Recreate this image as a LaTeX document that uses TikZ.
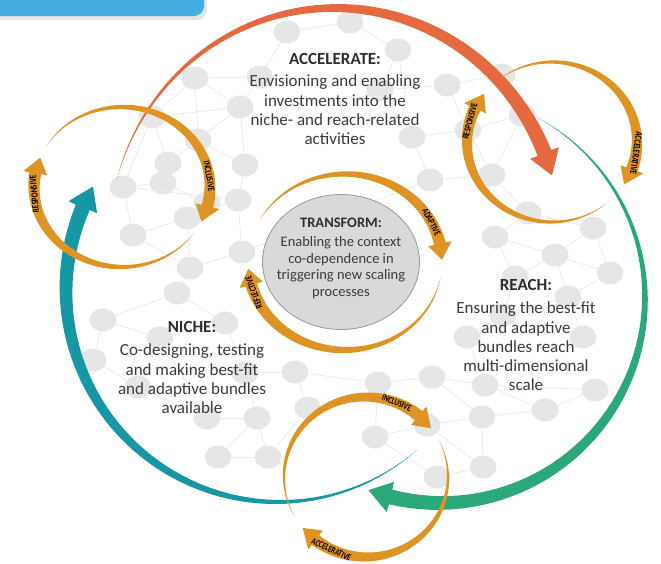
\documentclass[tikz,border=0pt]{standalone}
\usepackage{fontspec}
\setmainfont{Carlito}
\newfontfamily\tagfont[FakeStretch=0.75]{Carlito}
\usepackage{tikz}
\usetikzlibrary{shapes.geometric,positioning}
\definecolor{accred}{RGB}{229,105,62}
\definecolor{reachgreen}{RGB}{42,168,122}
\definecolor{nicheteal}{RGB}{23,150,163}
\definecolor{loopamber}{RGB}{222,148,36}
\definecolor{boxblue}{RGB}{70,173,225}
\definecolor{blobgray}{RGB}{230,230,230}
\definecolor{linkgray}{RGB}{234,234,234}
\definecolor{textgray}{RGB}{58,58,58}
\tikzset{
blob/.style={ellipse, fill=blobgray, minimum width=27pt, minimum height=23pt, inner sep=0pt}, % network dots
link/.style={draw=linkgray, line width=0.8pt},
head/.style={font=\bfseries\fontsize{17}{19}\selectfont, text=textgray!80!black, inner sep=0pt},
body/.style={font=\fontsize{17}{19.2}\selectfont, text=textgray, align=center, inner sep=0pt},
tag/.style={font=\tagfont\bfseries\fontsize{9.5}{9.5}\selectfont, text=black, inner sep=0pt},
core/.style={ellipse, fill=black!15, draw=black!40, line width=0.8pt, minimum width=157pt, minimum height=135pt},
}
% tapered circular arrow: centre x, centre y, radius x, radius y, start angle, end angle, width, head, colour
\newcommand{\cyclearc}[9]{%
  \pgfmathsetmacro{\tipang}{#6-85*(#7/2+#8)/#3}
  \fill[#9] plot[domain=0:1,samples=60,variable=\s]
      ({#1+(#3+#7*\s/2)*cos(#5+((#6)-(#5))*\s)},{#2-(#4+#7*\s/2)*sin(#5+((#6)-(#5))*\s)})
    -- ({#1+(#3+#7/2+#8)*cos(#6)},{#2-(#4+#7/2+#8)*sin(#6)})
    -- ({#1+#3*cos(\tipang)},{#2-#4*sin(\tipang)})
    -- ({#1+(#3-#7/2-#8)*cos(#6)},{#2-(#4-#7/2-#8)*sin(#6)})
    -- plot[domain=1:0,samples=60,variable=\s]
      ({#1+(#3-#7*\s/2)*cos(#5+((#6)-(#5))*\s)},{#2-(#4-#7*\s/2)*sin(#5+((#6)-(#5))*\s)})
    -- cycle;
}
\begin{document}
\begin{tikzpicture}[x=1pt,y=-1pt]
\useasboundingbox (0,0) rectangle (661,563);
% blue tab
\fill[black!10, rounded corners=10pt] (-20,-20) rectangle (207,20);
\fill[boxblue, rounded corners=10pt] (-20,-20) rectangle (204,16);
% network
\foreach \n/\x/\y in {1/287/32, 2/350/22, 3/398/50, 4/260/77, 5/195/78, 6/240/107, 7/152/117,
  8/198/140, 9/245/165, 10/168/163, 59/163/183, 11/123/187, 12/207/203, 13/238/200, 14/187/218,
  15/133/235, 16/242/252, 17/190/268, 18/177/293, 19/103/320, 20/225/323, 21/160/338, 22/93/360,
  23/245/373, 24/295/372, 25/138/387, 26/308/408, 27/257/418, 28/207/418, 29/218/457, 30/268/457,
  31/447/85, 32/502/75, 33/522/115, 34/468/130, 35/412/137, 36/430/180, 37/492/175, 38/380/90,
  39/528/213, 40/495/237, 41/593/228, 42/555/255, 43/610/273, 44/515/277, 45/568/297, 46/503/315,
  47/467/337, 48/583/337, 49/378/383, 50/432/377, 51/485/385, 52/595/390, 53/545/410, 54/482/417,
  55/427/425, 56/375/437, 57/483/467, 58/437/477}
  \node[blob] (v_\n) at (\x,\y) {};
\foreach \a/\b in {1/2, 2/3, 3/38, 1/4, 4/5, 4/6, 5/6, 5/7, 5/8, 6/7, 6/8, 6/9, 7/10, 7/11, 8/10,
  8/9, 10/59, 59/11, 11/13, 59/12, 9/13, 12/14, 13/14, 11/15, 14/15, 14/17, 15/17, 13/16, 16/17,
  17/18, 18/19, 18/20, 19/22, 19/21, 20/21, 21/25, 22/25, 21/28, 20/23, 23/24, 23/27, 24/26,
  27/28, 27/29, 27/30, 29/30, 26/30, 25/28, 38/31, 31/32, 31/34, 32/33, 33/34, 34/35, 34/37,
  35/36, 36/37, 33/37, 3/35, 37/39, 39/40, 39/41, 40/42, 41/42, 41/43, 42/43, 42/44, 40/44,
  42/45, 43/45, 44/46, 45/46, 45/48, 46/47, 47/51, 49/50, 50/51, 51/52, 50/54, 51/53, 52/53,
  53/54, 54/55, 55/56, 49/56, 55/57, 54/57, 56/58, 57/58, 16/36, 24/49}
  \draw[link] (v_\a) -- (v_\b);
% texts
\node[head] (acc_head) at (335,59) {ACCELERATE:};
\node[body] (acc_body) [below=10pt of acc_head] {Envisioning and enabling\\investments into the\\niche- and reach-related\\activities};
\node[head] (reach_head) at (526,285) {REACH:};
\node[body] (reach_body) [below=11pt of reach_head] {Ensuring the best-fit\\and adaptive\\bundles reach\\multi-dimensional\\scale};
\node[head] (niche_head) at (192,327) {NICHE:};
\node[body] (niche_body) [below=11pt of niche_head] {Co-designing, testing\\and making best-fit\\and adaptive bundles\\available};
\node[core] (core) at (341,262) {};
\node[head, font=\bfseries\fontsize{14.5}{16.8}\selectfont] (tra_head) at (341,223) {TRANSFORM:};
\node[body, font=\fontsize{14.5}{16.8}\selectfont] (tra_body) [below=8pt of tra_head] {Enabling the context\\co-dependence in\\triggering new scaling\\processes};
% the three big arcs
\cyclearc{278}{290}{212}{212}{-49}{-203}{15}{8}{nicheteal}
\cyclearc{440}{298}{205}{205}{62}{-104}{15}{8}{reachgreen}
\cyclearc{335}{240}{226}{232}{165}{22}{15}{8}{accred}
% small loops
\cyclearc{122}{187}{88}{80}{150}{-14}{12}{6}{loopamber}
\cyclearc{122}{187}{88}{80}{-35}{-190}{12}{6}{loopamber}
\cyclearc{552}{142}{85}{80}{-50}{-205}{12}{6}{loopamber}
\cyclearc{552}{142}{85}{80}{130}{-20}{12}{6}{loopamber}
\cyclearc{345}{262}{97}{88}{152}{12}{12}{6}{loopamber}
\cyclearc{345}{262}{97}{88}{-10}{-165}{12}{6}{loopamber}
\cyclearc{366}{477}{82}{80}{210}{50}{12}{6}{loopamber}
\cyclearc{366}{477}{82}{80}{28}{-128}{12}{6}{loopamber}
% loop tags
\node[tag, rotate=-80] (tl_inc) at ({122+88*cos(8)},{187-80*sin(8)}) {INCLUSIVE};
\node[tag, rotate=95] (tl_res) at ({122+88*cos(185)},{187-80*sin(185)}) {RESPONSIVE};
\node[tag, rotate=75] (tr_res) at ({552+85*cos(165)},{142-80*sin(165)}) {RESPONSIVE};
\node[tag, rotate=-98] (tr_acc) at ({552+85*cos(-8)},{142-80*sin(-8)}) {ACCELERATIVE};
\node[tag, rotate=-63] (c_ada) at ({345+97*cos(27)},{262-88*sin(27)}) {ADAPTIVE};
\node[tag, rotate=110] (c_ref) at ({345+97*cos(200)},{262-88*sin(200)}) {REFLECTIVE};
\node[tag, rotate=-22] (b_inc) at ({366+82*cos(68)},{477-80*sin(68)}) {INCLUSIVE};
\node[tag, rotate=-25] (b_acc) at ({366+82*cos(-115)},{477-80*sin(-115)}) {ACCELERATIVE};
\end{tikzpicture}
\end{document}
